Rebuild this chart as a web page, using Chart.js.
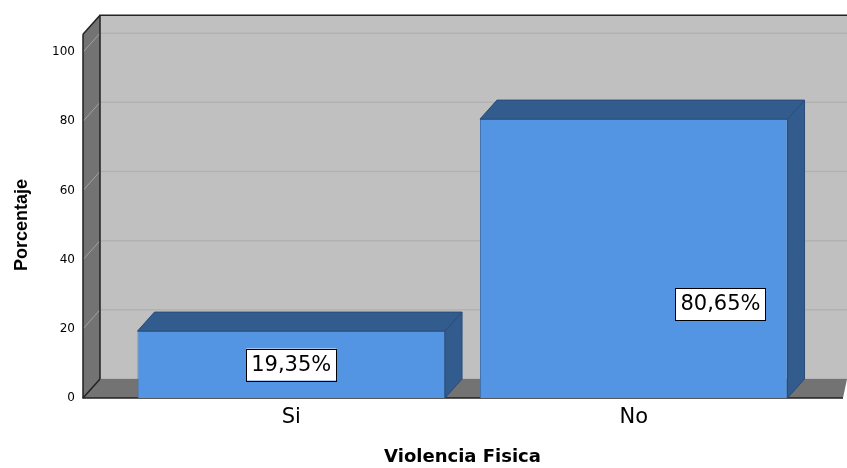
<!DOCTYPE html>
<html>
<head>
<meta charset="utf-8">
<script src="https://cdn.jsdelivr.net/npm/chart.js@4"></script>
<style>
  html, body { margin: 0; padding: 0; background: #ffffff; }
  #wrap { width: 847px; height: 468px; }
</style>
</head>
<body>
<div id="wrap"><canvas id="c" width="847" height="468"></canvas></div>
<script>
const categories = ['Si', 'No'];
const percentValues = [19.35, 80.65];
const yTicks = [0, 20, 40, 60, 80, 100];
const xTitle = 'Violencia Fisica';
const yTitle = 'Porcentaje';

// styling for the pseudo-3D look (not data)
const DEPTH_X = 17, DEPTH_Y = -19;
const labelAnchors = [{ fx: 0.5, fy: 0.5 }, { fx: 0.782, fy: 0.663 }];

const threeD = {
  id: 'threeD',
  beforeDatasetsDraw(chart) {
    const ctx = chart.ctx;
    const y = chart.scales.y;
    const W = chart.width;
    const FL = chart.chartArea.left - 37;
    const FB = y.getPixelForValue(0);
    const WT = y.getPixelForValue(yTicks[yTicks.length - 1]) - 18;
    ctx.save();
    // back wall
    ctx.fillStyle = '#c0c0c0';
    ctx.fillRect(FL + DEPTH_X, WT + DEPTH_Y, W - (FL + DEPTH_X), FB - WT);
    // gridlines on back wall
    ctx.strokeStyle = '#b2b2b2';
    ctx.lineWidth = 1.5;
    yTicks.forEach(v => {
      const py = y.getPixelForValue(v) + DEPTH_Y;
      ctx.beginPath(); ctx.moveTo(FL + DEPTH_X, py); ctx.lineTo(W, py); ctx.stroke();
    });
    // side wall
    ctx.fillStyle = '#737373';
    ctx.beginPath();
    ctx.moveTo(FL, WT); ctx.lineTo(FL + DEPTH_X, WT + DEPTH_Y);
    ctx.lineTo(FL + DEPTH_X, FB + DEPTH_Y); ctx.lineTo(FL, FB); ctx.closePath();
    ctx.fill();
    // floor
    ctx.beginPath();
    ctx.moveTo(FL, FB); ctx.lineTo(FL + DEPTH_X, FB + DEPTH_Y);
    ctx.lineTo(W, FB + DEPTH_Y); ctx.lineTo(W - 4, FB); ctx.closePath();
    ctx.fill();
    // diagonal grid lines on side wall
    ctx.strokeStyle = '#a2a2a2';
    ctx.lineWidth = 1;
    yTicks.forEach(v => {
      const py = y.getPixelForValue(v);
      if (v === 0) return;
      ctx.beginPath(); ctx.moveTo(FL, py); ctx.lineTo(FL + DEPTH_X, py + DEPTH_Y); ctx.stroke();
    });
    // edges
    ctx.strokeStyle = '#222222';
    ctx.lineWidth = 1.5;
    ctx.beginPath();
    ctx.moveTo(FL + DEPTH_X, FB + DEPTH_Y); ctx.lineTo(FL + DEPTH_X, WT + DEPTH_Y); ctx.lineTo(W, WT + DEPTH_Y);
    ctx.stroke();
    ctx.beginPath();
    ctx.moveTo(FL, WT); ctx.lineTo(FL + DEPTH_X, WT + DEPTH_Y);
    ctx.stroke();
    ctx.beginPath();
    ctx.moveTo(FL, WT); ctx.lineTo(FL, FB); ctx.lineTo(W - 4, FB);
    ctx.stroke();
    ctx.beginPath();
    ctx.moveTo(FL, FB); ctx.lineTo(FL + DEPTH_X, FB + DEPTH_Y);
    ctx.stroke();
    ctx.restore();
  },
  afterDatasetsDraw(chart) {
    const ctx = chart.ctx;
    const meta = chart.getDatasetMeta(0);
    const data = chart.data.datasets[0].data;
    ctx.save();
    meta.data.forEach((bar, i) => {
      const { x, y, width, base } = bar.getProps(['x', 'y', 'width', 'base'], true);
      const l = x - width / 2, r = x + width / 2;
      ctx.fillStyle = '#335c8e';
      ctx.strokeStyle = '#2b4c78';
      ctx.lineWidth = 1;
      // top face
      ctx.beginPath();
      ctx.moveTo(l, y); ctx.lineTo(l + DEPTH_X, y + DEPTH_Y);
      ctx.lineTo(r + DEPTH_X, y + DEPTH_Y); ctx.lineTo(r, y); ctx.closePath();
      ctx.fill(); ctx.stroke();
      // side face
      ctx.beginPath();
      ctx.moveTo(r, y); ctx.lineTo(r + DEPTH_X, y + DEPTH_Y);
      ctx.lineTo(r + DEPTH_X, base + DEPTH_Y); ctx.lineTo(r, base); ctx.closePath();
      ctx.fill(); ctx.stroke();
      // value label
      const txt = data[i].toFixed(2).replace('.', ',') + '%';
      ctx.font = '21px "DejaVu Sans"';
      const tw = ctx.measureText(txt).width;
      const a = labelAnchors[i];
      const cx = l + width * a.fx;
      const cy = y + (base - y) * a.fy;
      const bw = tw + 10, bh = 32;
      ctx.fillStyle = '#ffffff';
      ctx.fillRect(cx - bw / 2, cy - bh / 2, bw, bh);
      ctx.strokeStyle = '#000000';
      ctx.lineWidth = 1;
      ctx.strokeRect(Math.round(cx - bw / 2) + 0.5, Math.round(cy - bh / 2) + 0.5, Math.round(bw), Math.round(bh));
      ctx.fillStyle = '#000000';
      ctx.textAlign = 'center';
      ctx.textBaseline = 'middle';
      ctx.fillText(txt, cx, cy + 1);
    });
    ctx.restore();
  }
};

new Chart(document.getElementById('c'), {
  type: 'bar',
  data: {
    labels: categories,
    datasets: [{
      data: percentValues,
      backgroundColor: '#5495e3',
      borderColor: '#3f72b0',
      borderWidth: 1,
      barPercentage: 0.898,
      categoryPercentage: 1.0
    }]
  },
  options: {
    responsive: false,
    animation: false,
    events: [],
    layout: { padding: { top: 48, right: 42, left: 0, bottom: 0 } },
    plugins: { legend: { display: false }, tooltip: { enabled: false } },
    scales: {
      x: {
        grid: { display: false, drawTicks: false },
        border: { display: false },
        ticks: { color: '#000', font: { family: 'DejaVu Sans', size: 21 }, padding: 7 },
        title: { display: true, text: xTitle, color: '#000', font: { family: 'DejaVu Sans', size: 18, weight: 'bold' }, padding: { top: 0, bottom: 0 } },
        afterFit(axis) { axis.height = 70; }
      },
      y: {
        min: 0, max: 100,
        afterBuildTicks(axis) { axis.ticks = yTicks.map(v => ({ value: v })); },
        grid: { display: false, drawTicks: false },
        border: { display: false },
        ticks: { color: '#000', font: { family: 'DejaVu Sans', size: 12 }, padding: 45 },
        title: { display: true, text: yTitle, color: '#000', font: { family: 'Liberation Sans', size: 18, weight: 'bold' }, padding: { top: 11, bottom: 0 } },
        afterFit(axis) { axis.width = 120; }
      }
    }
  },
  plugins: [threeD]
});
</script>
</body>
</html>
